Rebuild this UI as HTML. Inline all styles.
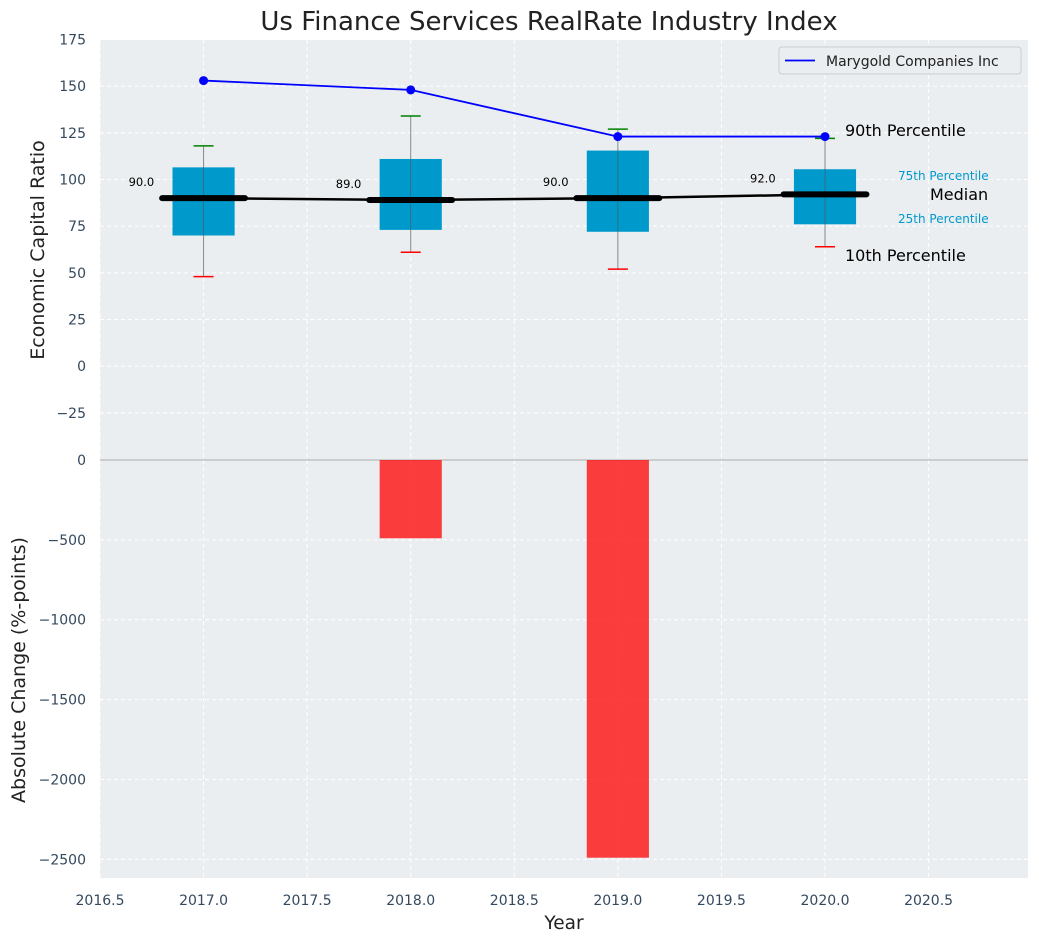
<!DOCTYPE html>
<html><head><meta charset="utf-8">
<style>
body{margin:0;background:#fff;font-family:"Liberation Sans","DejaVu Sans",sans-serif;}
svg text{font-family:"DejaVu Sans","Liberation Sans",sans-serif;}
</style></head>
<body>
<svg id="chart" width="1039" height="942" xmlns="http://www.w3.org/2000/svg"></svg>
<script>
const years=[2017,2018,2019,2020];
const q10=[48,61,52,64];
const q25=[70,73,72,76];
const medians=[90,89,90,92];
const q75=[106.5,111,115.5,105.5];
const q90=[118,134,127,122];
const companyValues=[153,148,123,123];
const changes=[0,-490,-2490,0];
const xTicks=[2016.5,2017,2017.5,2018,2018.5,2019,2019.5,2020,2020.5];
const yTopTicks=[-25,0,25,50,75,100,125,150,175];
const yBotTicks=[-2500,-2000,-1500,-1000,-500,0];

const svg=document.getElementById('chart');
const NS='http://www.w3.org/2000/svg';
function mk(tag,attrs,parent){const e=document.createElementNS(NS,tag);for(const k in attrs)e.setAttribute(k,attrs[k]);(parent||svg).appendChild(e);return e;}
const L=100,R=1028,T1=40,B1=460,T2=460,B2=878;
const xS=v=>L+(v-2016.5)/(2020.98-2016.5)*(R-L);
const yT=v=>T1+(175-v)/(225)*(B1-T1)-0.5;
const yB=v=>T2+(0-v)/2617*(B2-T2);

let e;
e=mk('rect',{x:L,y:T1,width:R-L,height:B1-T1,fill:'#eaeef0'});

e=mk('rect',{x:L,y:T2,width:R-L,height:B2-T2,fill:'#eaeef0'});


xTicks.forEach(t=>{
  mk('line',{x1:xS(t),x2:xS(t),y1:T1,y2:B2,stroke:'#fff','stroke-dasharray':'4,3','stroke-width':1});
  e=mk('text',{x:xS(t),y:905,'text-anchor':'middle','font-size':14,fill:'#34495e'});e.textContent=t.toFixed(1);
  
});
yTopTicks.forEach(t=>{
  mk('line',{x1:L,x2:R,y1:yT(t),y2:yT(t),stroke:'#fff','stroke-dasharray':'4,3'});
  e=mk('text',{x:86,y:yT(t)+5,'text-anchor':'end','font-size':14,fill:'#34495e'});e.textContent=t<0?'\u2212'+(-t):t;
  
});
yBotTicks.forEach(t=>{
  mk('line',{x1:L,x2:R,y1:yB(t),y2:yB(t),stroke:'#fff','stroke-dasharray':'4,3'});
  e=mk('text',{x:86,y:yB(t)+5,'text-anchor':'end','font-size':14,fill:'#34495e'});e.textContent=t<0?'\u2212'+(-t):t;
  
});
mk('line',{x1:L,x2:R,y1:460,y2:460,stroke:'#aaa','stroke-width':1});

years.forEach((y,i)=>{
  if(changes[i]===0)return;
  e=mk('rect',{x:xS(y-0.15),y:yB(0),width:xS(y+0.15)-xS(y-0.15),height:yB(changes[i])-yB(0),fill:'#ff0000','fill-opacity':0.75});
  
});

years.forEach((y,i)=>{
  const cx=xS(y);
  mk('line',{x1:cx,x2:cx,y1:yT(q90[i]),y2:yT(q10[i]),stroke:'#888','stroke-width':1});
  e=mk('rect',{x:xS(y-0.15),y:yT(q75[i]),width:xS(y+0.15)-xS(y-0.15),height:yT(q25[i])-yT(q75[i]),fill:'#0099cc'});
  
  mk('line',{x1:cx,x2:cx,y1:yT(q75[i]),y2:yT(q25[i]),stroke:'#555','stroke-width':0.6});
  mk('line',{x1:cx-10,x2:cx+10,y1:yT(q90[i]),y2:yT(q90[i]),stroke:'green','stroke-width':1.5});
  mk('line',{x1:cx-10,x2:cx+10,y1:yT(q10[i]),y2:yT(q10[i]),stroke:'red','stroke-width':1.5});
});
let pts=years.map((y,i)=>xS(y)+','+yT(medians[i])).join(' ');
e=mk('polyline',{points:pts,fill:'none',stroke:'#000','stroke-width':2.5});

years.forEach((y,i)=>{
  e=mk('line',{x1:xS(y-0.2),x2:xS(y+0.2),y1:yT(medians[i]),y2:yT(medians[i]),stroke:'#000','stroke-width':6,'stroke-linecap':'round'});
  
  e=mk('text',{x:xS(y-0.3),y:yT(medians[i])-12,'text-anchor':'middle','font-size':11.5,fill:'#000'});e.textContent=medians[i].toFixed(1);
  
});
pts=years.map((y,i)=>xS(y)+','+yT(companyValues[i])).join(' ');
e=mk('polyline',{points:pts,fill:'none',stroke:'#0000ff','stroke-width':1.8});

years.forEach((y,i)=>{
  e=mk('circle',{cx:xS(y),cy:yT(companyValues[i]),r:4.5,fill:'#0000ff'});
  
});
const ann=[[845,136,'90th Percentile',16,'#000'],[898,180,'75th Percentile',12,'#0099cc'],[930,200,'Median',16,'#000'],[898,223,'25th Percentile',12,'#0099cc'],[845,261,'10th Percentile',16,'#000']];
ann.forEach(a=>{e=mk('text',{x:a[0],y:a[1],'font-size':a[3],fill:a[4]});e.textContent=a[2];
  });
e=mk('rect',{x:779,y:47,width:242,height:27,fill:'#eaeef0',stroke:'#ccc',rx:3});

mk('line',{x1:785,x2:815,y1:60.5,y2:60.5,stroke:'#0000ff','stroke-width':1.8});
e=mk('text',{x:826,y:66,'font-size':14,fill:'#222'});e.textContent='Marygold Companies Inc';

e=mk('text',{x:549,y:30,'text-anchor':'middle','font-size':26,fill:'#222'});e.textContent='Us Finance Services RealRate Industry Index';

e=mk('text',{x:564,y:929,'text-anchor':'middle','font-size':18.5,fill:'#222'});e.textContent='Year';

e=mk('text',{x:0,y:0,'text-anchor':'middle','font-size':19,fill:'#222',transform:'translate(44,250) rotate(-90)'});e.textContent='Economic Capital Ratio';

e=mk('text',{x:0,y:0,'text-anchor':'middle','font-size':19,fill:'#222',transform:'translate(25,670) rotate(-90)'});e.textContent='Absolute Change (%-points)';

</script>
</body></html>
